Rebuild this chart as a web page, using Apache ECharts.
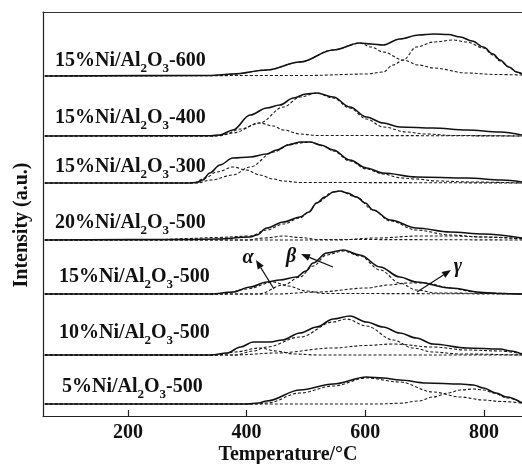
<!DOCTYPE html>
<html><head><meta charset="utf-8">
<script src="https://cdn.jsdelivr.net/npm/echarts@6/dist/echarts.min.js"></script>
<style>html,body{margin:0;padding:0;background:#fff}#c{width:522px;height:464px}</style>
</head><body><div id="c"></div>
<script>
// ---- data: [temperature °C, intensity (a.u.) above each curve's own baseline] ----
const xTicks = [200, 400, 600, 800];
const sampleNames = ['15%Ni/Al2O3-600','15%Ni/Al2O3-400','15%Ni/Al2O3-300','20%Ni/Al2O3-500','15%Ni/Al2O3-500','10%Ni/Al2O3-500','5%Ni/Al2O3-500'];
const stackOffset = [340, 280, 233, 176, 122, 61, 12];

const s600_total = [[60,0],[340,0.5],[377,2],[434,6],[490,14],[546,26],[591,33],[610,32],[630,31],[658,37],[690,41],[715,42],[740,41.5],[760,39],[780,35],[799,29],[815,22],[827,16],[842,9],[855,4],[864,2]];
const s600_p1 = [[60,0],[340,0.5],[377,2],[434,6],[490,14],[546,26],[591,33],[610,29],[630,24],[664,16],[690,11],[715,8],[771,3],[820,1.5],[864,1]];
const s600_p2 = [[60,0],[500,0.5],[602,2],[630,4],[647,11],[664,16],[686,29],[715,34],[748,36],[771,34],[799,28],[815,21],[827,15],[842,9],[855,4],[864,2]];

const s400_total = [[60,0],[340,0.3],[355,1],[377,6],[406,21],[434,28],[456,31],[479,38],[500,42],[518,43],[546,39],[574,29],[602,19],[630,13],[658,9],[714,8],[771,6],[827,4],[864,1]];
const s400_a = [[60,0],[340,0],[360,1],[390,7],[422,13],[445,10],[462,6],[490,2],[520,0.5],[864,0]];
const s400_b = [[60,0],[350,0],[377,3],[422,13],[462,29],[490,39],[518,43],[546,38],[574,28],[602,17],[630,9],[670,4],[700,2],[750,0.5],[864,0]];

const s300_total = [[60,0],[300,0],[316,0.5],[326,3],[338,10],[355,18],[377,25],[406,26],[434,29],[451,33],[470,38],[490,41],[507,41],[525,38],[546,33],[574,23],[602,15],[630,10],[686,6],[771,5],[830,3],[864,1]];
const s300_a = [[60,0],[310,0],[330,5],[350,11],[377,16],[400,13],[422,8],[445,4],[462,2],[490,0.5],[864,0]];
const s300_b = [[60,0],[316,0],[340,3],[377,8],[406,16],[445,31],[475,39],[507,41],[530,37],[546,32],[574,22],[602,14],[630,9],[660,5],[686,4],[720,2],[780,1],[864,0]];

const n20_total = [[60,0],[300,0.5],[350,1],[406,3],[417,5],[434,12],[462,18],[490,23],[505,28],[518,37],[532,43],[546,48],[557,49],[570,47],[585,43],[600,37],[613,30],[642,20],[686,12],[743,8],[799,6],[864,2]];
const n20_a = [[60,0],[400,0],[430,2],[462,4],[490,2.5],[520,0.5],[864,0]];
const n20_b = [[60,0],[250,0.3],[300,1.5],[350,2.5],[406,4],[434,10],[462,16],[490,22],[505,28],[518,37],[546,48],[557,49],[585,43],[613,30],[642,19],[686,10],[743,5],[799,3],[864,1]];
const n20_g = [[60,0],[550,0],[620,2],[690,4],[750,4],[800,3],[864,1.5]];

const n15_total = [[60,0],[340,0],[377,2],[406,7],[434,12],[456,14],[484,17],[500,23],[512,31],[535,41],[563,44],[591,39],[625,27],[658,17],[686,12],[743,6],[799,1.5],[830,0.5],[864,0]];
const n15_a = [[60,0],[360,0],[400,5],[445,12],[470,8],[500,3],[530,0.5],[864,0]];
const n15_b = [[60,0],[420,0],[462,9],[490,17],[512,28],[535,39],[563,43],[591,38],[625,24],[658,11],[686,4],[720,1],[864,0]];
const n15_g = [[60,0],[450,0],[520,2],[602,6],[640,9],[670,11],[703,11],[743,6],[780,2.5],[799,1],[864,0]];

const n10_total = [[60,0],[340,0],[367,2],[390,8],[411,13],[440,13],[460,15],[490,22],[518,28],[546,36],[574,39],[602,33],[630,28],[658,22],[686,17],[714,11],[771,7],[827,6],[845,4],[864,1]];
const n10_a = [[60,0],[350,0],[380,3],[422,7],[450,4],[480,1],[520,0],[864,0]];
const n10_b = [[60,0],[380,0],[411,4],[434,8],[490,18],[546,33],[568,36],[602,29],[647,15],[680,7],[714,3],[760,1],[864,0]];
const n10_g = [[60,0],[380,0],[450,2],[546,7],[600,9.5],[647,11],[714,8],[771,5],[827,4],[864,1]];

const n5_total = [[60,0],[400,0],[420,1],[434,3],[490,14],[546,20],[602,27],[630,26],[658,24],[703,21],[760,20],[782,19],[799,16],[820,11],[838,7],[864,1]];
const n5_b = [[60,0],[420,0],[434,1],[490,11],[546,18],[602,26],[658,22],[714,12],[760,7],[799,4],[830,2.5],[864,1]];
const n5_g = [[60,0],[620,0],[658,0.7],[690,3],[714,7],[740,11],[760,14],[782,15],[800,14],[816,11],[840,6],[864,1]];

const samples = [
  {total: s600_total, parts: [s600_p1, s600_p2]},
  {total: s400_total, parts: [s400_a, s400_b]},
  {total: s300_total, parts: [s300_a, s300_b]},
  {total: n20_total, parts: [n20_a, n20_b, n20_g]},
  {total: n15_total, parts: [n15_a, n15_b, n15_g]},
  {total: n10_total, parts: [n10_a, n10_b, n10_g]},
  {total: n5_total, parts: [n5_b, n5_g]}
];

// ---- chart ----
const FONT = '"Liberation Serif","Times New Roman",serif';
const chart = echarts.init(document.getElementById('c'), null, {renderer: 'canvas'});
const series = [];
samples.forEach((s, i) => {
  const off = stackOffset[i];
  s.parts.forEach(p => series.push({
    type: 'line', data: p.map(d => [d[0], d[1] + off]), showSymbol: false, silent: true,
    smooth: 0.35, smoothMonotone: 'x',
    lineStyle: {color: '#1a1a1a', width: 1.1, type: [3, 2]}
  }));
  series.push({
    type: 'line', data: s.total.map(d => [d[0], d[1] + off]), showSymbol: false, silent: true,
    smooth: 0.35, smoothMonotone: 'x',
    lineStyle: {color: '#111', width: 1.6}
  });
});

const labelX = [55, 55, 55, 55, 59, 59, 62];
const labelY = [61, 118, 167, 223, 277, 333, 387];
const graphic = [];
sampleNames.forEach((name, i) => {
  const m = name.match(/^(.*Al)2O3(-\d+)$/);
  graphic.push({
    type: 'text', x: labelX[i], y: labelY[i],
    style: {
      text: '{a|' + m[1] + '}{s|2}{a|O}{s|3}{a|' + m[2] + '}',
      verticalAlign: 'middle',
      rich: {
        a: {fontFamily: FONT, fontWeight: 'bold', fontSize: 20, fill: '#111', lineHeight: 24, verticalAlign: 'middle'},
        s: {fontFamily: FONT, fontWeight: 'bold', fontSize: 13, fill: '#111', lineHeight: 24, verticalAlign: 'top', padding: [13, 0, 0, 0]}
      }
    }
  });
});
graphic.push({type: 'text', x: 22, y: 225, rotation: Math.PI / 2,
  style: {text: 'Intensity (a.u.)', fontFamily: FONT, fontWeight: 'bold', fontSize: 20, fill: '#111', align: 'center', verticalAlign: 'middle'}});
graphic.push({type: 'text', x: 288, y: 455,
  style: {text: 'Temperature/°C', fontFamily: FONT, fontWeight: 'bold', fontSize: 20, fill: '#111', align: 'center', verticalAlign: 'middle'}});
const greek = [['α', 248, 258], ['β', 291, 257], ['γ', 458, 267]];
greek.forEach(g => graphic.push({type: 'text', x: g[1], y: g[2],
  style: {text: g[0], fontFamily: FONT, fontWeight: 'bold', fontStyle: 'italic', fontSize: 20, fill: '#111', align: 'center', verticalAlign: 'middle'}}));
function arrow(x1, y1, x2, y2) {
  const a = Math.atan2(y2 - y1, x2 - x1), L = 9, W = 3.5;
  const bx = x2 - L * Math.cos(a), by = y2 - L * Math.sin(a);
  graphic.push({type: 'line', shape: {x1, y1, x2: bx, y2: by}, style: {stroke: '#111', lineWidth: 1.2}});
  graphic.push({type: 'polygon', shape: {points: [[x2, y2], [bx + W * Math.sin(a), by - W * Math.cos(a)], [bx - W * Math.sin(a), by + W * Math.cos(a)]]}, style: {fill: '#111'}});
}
arrow(274, 289, 256, 260);
arrow(333, 267, 301, 254);
arrow(417, 292, 451, 270);

chart.setOption({
  animation: false,
  backgroundColor: '#fff',
  grid: {left: 43, top: 12, right: 0, bottom: 48},
  xAxis: [{
    type: 'value', min: 57, max: 864,
    axisLine: {lineStyle: {color: '#222', width: 1.2}},
    axisTick: {inside: true, length: 6, customValues: xTicks, lineStyle: {color: '#222', width: 1.2}},
    axisLabel: {customValues: xTicks, margin: 7, fontFamily: FONT, fontWeight: 'bold', fontSize: 20, color: '#111'},
    splitLine: {show: false}
  }, {
    type: 'value', position: 'top', min: 57, max: 864,
    axisLine: {show: true, lineStyle: {color: '#333', width: 1.2}},
    axisTick: {show: false}, axisLabel: {show: false}, splitLine: {show: false}
  }],
  yAxis: {
    type: 'value', min: 0, max: 404,
    axisLine: {show: true, lineStyle: {color: '#222', width: 1.2}},
    axisTick: {show: false}, axisLabel: {show: false}, splitLine: {show: false}
  },
  series: series,
  graphic: graphic
});
</script></body></html>
